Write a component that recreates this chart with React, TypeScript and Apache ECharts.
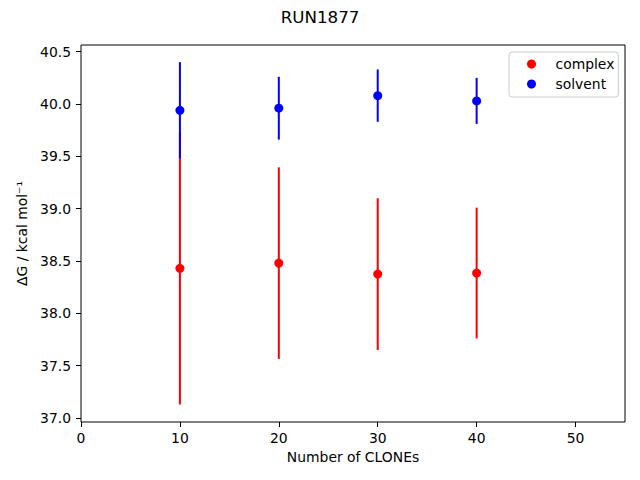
import React, { useEffect, useRef } from "react";
import * as echarts from "echarts";

const titleText = "RUN1877";
const xName = "Number of CLONEs";
const yName = "ΔG / kcal mol⁻¹";
const clones = [10, 20, 30, 40];
const complexMean = [38.43, 38.48, 38.375, 38.385];
const complexErr = [1.3, 0.915, 0.725, 0.625];
const solventMean = [39.94, 39.96, 40.08, 40.03];
const solventErr = [0.46, 0.3, 0.25, 0.22];
const xTicks = [0, 10, 20, 30, 40, 50];
const yTicks = [37.0, 37.5, 38.0, 38.5, 39.0, 39.5, 40.0, 40.5];
const xRange = [0, 55];
const yRange = [36.962, 40.564];

const FONT = "DejaVu Sans";

function errSeries(name: string, means: number[], errs: number[], color: string) {
  return {
    name,
    type: "custom",
    data: clones.map((c, i) => [c, means[i] - errs[i], means[i] + errs[i]]),
    renderItem: (_p: any, api: any) => {
      const a = api.coord([api.value(0), api.value(1)]);
      const b = api.coord([api.value(0), api.value(2)]);
      return {
        type: "line",
        shape: { x1: a[0], y1: a[1], x2: b[0], y2: b[1] },
        style: { stroke: color, lineWidth: 2 },
      };
    },
    encode: { x: 0, y: [1, 2] },
    z: 2,
  };
}

function pointSeries(name: string, means: number[], color: string) {
  return {
    name,
    type: "scatter",
    data: clones.map((c, i) => [c, means[i]]),
    symbol: "circle",
    symbolSize: 9,
    itemStyle: { color, opacity: 1 },
    z: 3,
  };
}

export default function App() {
  const ref = useRef<HTMLDivElement>(null);
  useEffect(() => {
    if (!ref.current) return;
    const chart = echarts.init(ref.current, null, { renderer: "svg" });
    chart.setOption({
      animation: false,
      backgroundColor: "#ffffff",
      textStyle: { fontFamily: FONT },
      title: {
        text: titleText,
        left: "center",
        top: 3,
        textStyle: { fontFamily: FONT, fontSize: 16.7, fontWeight: "normal", color: "#000" },
      },
      legend: {
        data: [
          { name: "complex", icon: "circle" },
          { name: "solvent", icon: "circle" },
        ],
        orient: "vertical",
        left: 509,
        top: 52,
        itemWidth: 38,
        itemHeight: 9,
        itemGap: 4,
        padding: [4, 4, 5, 18],
        borderColor: "#cccccc",
        borderWidth: 1,
        borderRadius: 3,
        backgroundColor: "rgba(255,255,255,0.8)",
        itemStyle: { opacity: 1 },
        textStyle: { fontFamily: FONT, fontSize: 13.9, color: "#000", lineHeight: 16 },
      },
      grid: {
        left: 81,
        top: 45,
        width: 544,
        height: 377,
        show: true,
        borderColor: "#000",
        borderWidth: 1,
        backgroundColor: "transparent",
      },
      xAxis: {
        type: "value",
        min: xRange[0],
        max: xRange[1],
        name: xName,
        nameLocation: "middle",
        nameGap: 28,
        nameTextStyle: { fontFamily: FONT, fontSize: 13.9, color: "#000" },
        splitLine: { show: false },
        axisLine: { show: false },
        axisTick: { show: true, inside: false, length: 5, customValues: xTicks, lineStyle: { color: "#000" } },
        axisLabel: {
          customValues: xTicks,
          margin: 9,
          fontFamily: FONT,
          fontSize: 13.9,
          color: "#000",
        },
      },
      yAxis: {
        type: "value",
        min: yRange[0],
        max: yRange[1],
        name: yName,
        nameLocation: "middle",
        nameGap: 50,
        nameTextStyle: { fontFamily: FONT, fontSize: 13.9, color: "#000" },
        splitLine: { show: false },
        axisLine: { show: false },
        axisTick: { show: true, inside: false, length: 5, customValues: yTicks, lineStyle: { color: "#000" } },
        axisLabel: {
          customValues: yTicks,
          margin: 10,
          fontFamily: FONT,
          fontSize: 13.9,
          color: "#000",
          formatter: (v: number) => v.toFixed(1),
        },
      },
      series: [
        errSeries("complex err", complexMean, complexErr, "#ff0000"),
        pointSeries("complex", complexMean, "#ff0000"),
        errSeries("solvent err", solventMean, solventErr, "#0000ff"),
        pointSeries("solvent", solventMean, "#0000ff"),
      ],
    });
    return () => chart.dispose();
  }, []);
  return (
    <div
      ref={ref}
      style={{ position: "fixed", left: 0, top: 0, width: 640, height: 480 }}
    />
  );
}
